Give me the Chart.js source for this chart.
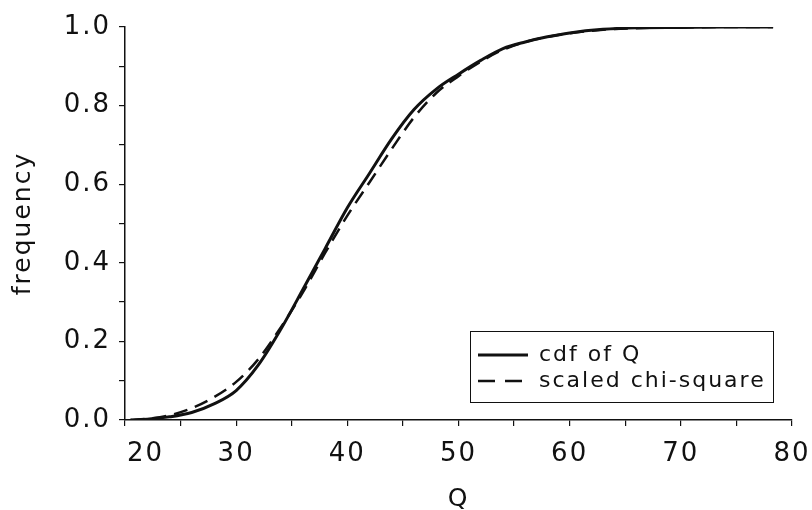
<!DOCTYPE html>
<html>
<head>
<meta charset="utf-8">
<script src="https://cdn.jsdelivr.net/npm/chart.js@4.4.0/dist/chart.umd.min.js"></script>
<style>
  body { margin: 0; background: #fff; }
  #wrap { width: 812px; height: 510px; }
</style>
</head>
<body>
<div id="wrap"><canvas id="chart" width="812" height="510"></canvas></div>
<script>
// ===============================
// DATA
// ===============================
const qValues = [20.5, 22, 24, 26, 28, 30, 32, 34, 36, 38, 40, 42, 44, 46, 48, 50, 52, 54, 56, 58, 60, 63, 66, 70, 74, 78.3];
const cdfOfQ = [0, 0.002, 0.008, 0.019, 0.041, 0.075, 0.14, 0.23, 0.332, 0.436, 0.54, 0.628, 0.716, 0.79, 0.842, 0.88, 0.915, 0.945, 0.962, 0.975, 0.985, 0.994, 0.998, 0.999, 1.0, 1.0];
const scaledChiSquare = [0, 0.003, 0.012, 0.03, 0.058, 0.097, 0.155, 0.235, 0.325, 0.425, 0.52, 0.605, 0.69, 0.77, 0.832, 0.875, 0.912, 0.942, 0.962, 0.975, 0.984, 0.993, 0.997, 0.999, 1.0, 1.0];
const seriesLabels = ["cdf of Q", "scaled chi-square"];
const xTickLabels = ["20", "30", "40", "50", "60", "70", "80"];
const yTickLabels = ["0.0", "0.2", "0.4", "0.6", "0.8", "1.0"];

const FONT = "'DejaVu Sans', sans-serif";
const INK = "#111";

function toPoints(ys) {
  return qValues.map((q, i) => ({ x: q, y: ys[i] }));
}

// ===============================
// PLUGINS
// ===============================
// wide plotter-like lettering
const spacing = {
  id: "spacing",
  beforeLayout(chart) { chart.ctx.letterSpacing = "2px"; },
  beforeDraw(chart) { chart.ctx.letterSpacing = "2px"; }
};

// boxed legend inside the plot, lower right
const boxLegend = {
  id: "boxLegend",
  afterDraw(chart) {
    const ctx = chart.ctx;
    const area = chart.chartArea;
    const right = area.right - 19;
    const bottom = area.bottom - 18;
    const left = right - 303;
    const top = bottom - 71;

    ctx.save();
    ctx.letterSpacing = "2px";
    ctx.strokeStyle = INK;
    ctx.lineWidth = 1;
    ctx.strokeRect(left + 0.5, top + 0.5, right - left, bottom - top);

    ctx.font = "22px " + FONT;
    ctx.fillStyle = INK;
    ctx.textBaseline = "middle";
    ctx.textAlign = "left";

    chart.data.datasets.forEach((ds, i) => {
      const y = top + 24 + i * 26;
      ctx.beginPath();
      ctx.lineWidth = ds.borderWidth;
      ctx.setLineDash(i === 0 ? [] : [17, 10]);
      ctx.moveTo(left + 8, y);
      ctx.lineTo(left + 58, y);
      ctx.stroke();
      ctx.setLineDash([]);
      ctx.fillText(ds.label, left + 69, y);
    });
    ctx.restore();
  }
};

// ===============================
// CHART
// ===============================
new Chart(document.getElementById("chart"), {
  type: "line",
  data: {
    datasets: [
      {
        label: seriesLabels[0],
        data: toPoints(cdfOfQ),
        borderColor: INK,
        borderWidth: 3,
        pointRadius: 0,
        cubicInterpolationMode: "monotone",
        fill: false
      },
      {
        label: seriesLabels[1],
        data: toPoints(scaledChiSquare),
        borderColor: INK,
        borderWidth: 2.5,
        borderDash: [14, 8],
        pointRadius: 0,
        cubicInterpolationMode: "monotone",
        fill: false
      }
    ]
  },
  options: {
    responsive: false,
    animation: false,
    layout: { padding: { top: 27, right: 20, left: 0, bottom: 0 } },
    plugins: {
      legend: { display: false },
      tooltip: { enabled: false }
    },
    scales: {
      x: {
        type: "linear",
        min: 20,
        max: 80,
        afterFit(scale) {
          scale.height = 90;
          scale.paddingLeft = 0;
          scale.paddingRight = 0;
        },
        border: { display: true, color: INK, width: 1.5 },
        grid: { drawOnChartArea: false, drawTicks: true, tickLength: 6, color: INK, lineWidth: 1.2 },
        ticks: {
          stepSize: 5,
          autoSkip: false,
          maxRotation: 0,
          padding: 13,
          color: INK,
          font: { family: FONT, size: 26 },
          callback(v) {
            const label = String(v);
            if (!xTickLabels.includes(label)) return "";
            return label === xTickLabels[0] ? "    " + label : label;
          }
        },
        title: {
          display: true,
          text: "Q",
          color: INK,
          font: { family: FONT, size: 25, lineHeight: 1 },
          padding: { top: 0, bottom: -2 }
        }
      },
      y: {
        min: 0,
        max: 1,
        afterFit(scale) {
          scale.width = 125;
          scale.paddingTop = 0;
          scale.paddingBottom = 0;
        },
        border: { display: true, color: INK, width: 1.5 },
        grid: { drawOnChartArea: false, drawTicks: true, tickLength: 6, color: INK, lineWidth: 1.2 },
        ticks: {
          stepSize: 0.1,
          autoSkip: false,
          padding: 8,
          color: INK,
          font: { family: FONT, size: 26 },
          callback(v) {
            const label = v.toFixed(1);
            return yTickLabels.includes(label) ? label : "";
          }
        },
        title: {
          display: true,
          text: "frequency",
          color: INK,
          font: { family: FONT, size: 25, lineHeight: 1.2 },
          padding: { top: 8, bottom: 0 }
        }
      }
    }
  },
  plugins: [spacing, boxLegend]
});
</script>
</body>
</html>
